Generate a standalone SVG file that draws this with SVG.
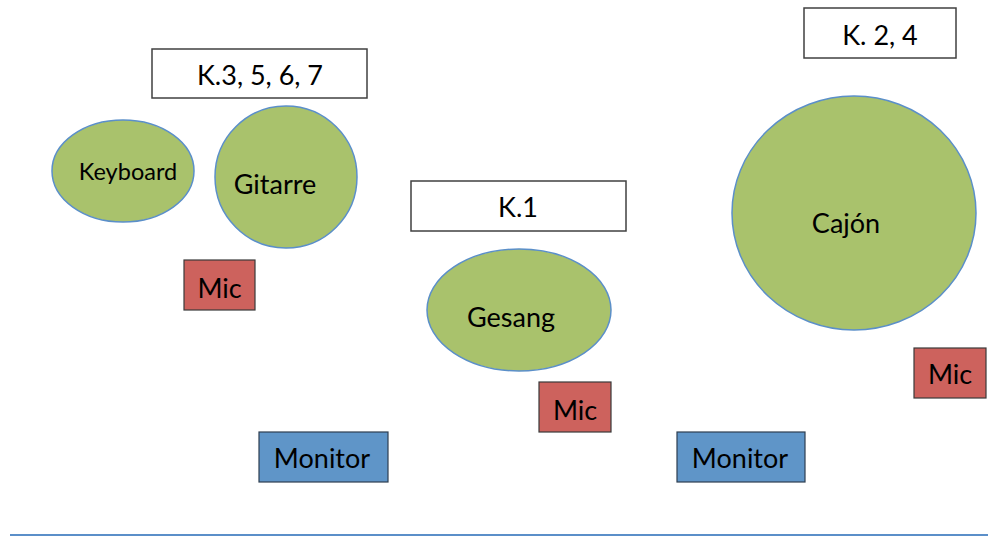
<svg xmlns="http://www.w3.org/2000/svg" width="998" height="537" viewBox="0 0 998 537">
<style>
text{font-family:Lato,"Open Sans","Liberation Sans",sans-serif;fill:#000;text-anchor:middle}
.lbl{fill:#fff;stroke:#404040;stroke-width:1.5}
.inst{fill:#a9c26c;stroke:#5b8fc9;stroke-width:1.5}
.mic{fill:#cd625d;stroke:#3a3a3a;stroke-width:1.2}
.mon{fill:#5f95c8;stroke:#2e3e50;stroke-width:1.2}
.t24{font-size:27px}
.t20{font-size:23.5px}
</style>
<g id="label-k3567"><rect class="lbl" x="152" y="49" width="215" height="49"/><text class="t24" x="260" y="85">K.3, 5, 6, 7</text></g>
<g id="label-k1"><rect class="lbl" x="411" y="181" width="215" height="50"/><text class="t24" x="518" y="217">K.1</text></g>
<g id="label-k24"><rect class="lbl" x="804" y="8" width="152" height="50"/><text class="t24" x="880" y="45">K. 2, 4</text></g>
<g id="keyboard"><ellipse class="inst" cx="123" cy="171" rx="71" ry="51"/><text class="t20" x="128" y="180">Keyboard</text></g>
<g id="gitarre"><ellipse class="inst" cx="286" cy="177" rx="71" ry="71"/><text class="t24" x="275" y="194">Gitarre</text></g>
<g id="gesang"><ellipse class="inst" cx="519" cy="310" rx="92" ry="61"/><text class="t24" x="511" y="327">Gesang</text></g>
<g id="cajon"><ellipse class="inst" cx="854" cy="213" rx="122" ry="117"/><text class="t24" x="846" y="233">Cajón</text></g>
<g id="mic1"><rect class="mic" x="184" y="260" width="71" height="50"/><text class="t24" x="219.5" y="298">Mic</text></g>
<g id="mic2"><rect class="mic" x="539" y="382" width="72" height="50"/><text class="t24" x="575" y="420">Mic</text></g>
<g id="mic3"><rect class="mic" x="914" y="348" width="72" height="50"/><text class="t24" x="950" y="384">Mic</text></g>
<g id="monitor1"><rect class="mon" x="259" y="432" width="129" height="50"/><text class="t24" x="322" y="468">Monitor</text></g>
<g id="monitor2"><rect class="mon" x="677" y="432" width="128" height="50"/><text class="t24" x="740" y="468">Monitor</text></g>
<g id="connectors"><line x1="10" y1="535" x2="988" y2="535" stroke="#5b8fc9" stroke-width="2"/></g>
</svg>
